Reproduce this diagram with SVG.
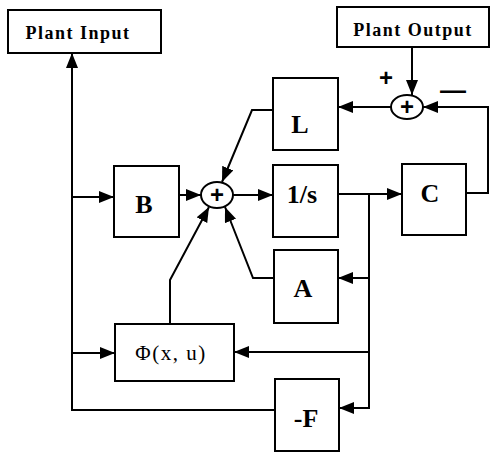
<svg xmlns="http://www.w3.org/2000/svg" width="493" height="453" viewBox="0 0 493 453">
<defs>
<marker id="arr" viewBox="0 0 15 12" refX="15" refY="6" markerWidth="15" markerHeight="12" markerUnits="userSpaceOnUse" orient="auto">
<path d="M0,0 L15,6 L0,12 z" fill="#000"/>
</marker>
</defs>
<style>
.box{fill:#fff;stroke:#000;stroke-width:2}
.sum{fill:#fff;stroke:#000;stroke-width:2}
.lbl{font-family:"Liberation Serif","Times New Roman",serif;font-weight:bold;font-size:26px;text-anchor:middle;fill:#000}
.hdr{font-family:"Liberation Serif","Times New Roman",serif;font-weight:bold;font-size:18px;letter-spacing:1.5px;text-anchor:middle;fill:#000}
.phi{font-family:"Liberation Serif","Times New Roman",serif;font-size:21px;letter-spacing:1.5px;text-anchor:middle;fill:#000}
.pl{font-family:"Liberation Sans",Arial,sans-serif;font-weight:bold;font-size:24px;text-anchor:middle;fill:#000}
.c{fill:none;stroke:#000;stroke-width:2}
</style>
<g id="connectors">
<path class="c" d="M275,410 H72 V53" marker-end="url(#arr)"/>
<path class="c" d="M72,197 H114" marker-end="url(#arr)"/>
<path class="c" d="M72,353 H115" marker-end="url(#arr)"/>
<path class="c" d="M179,195 H201" marker-end="url(#arr)"/>
<path class="c" d="M233,195 H273" marker-end="url(#arr)"/>
<path class="c" d="M338,194 H402" marker-end="url(#arr)"/>
<path class="c" d="M369,194 V408 H339" marker-end="url(#arr)"/>
<path class="c" d="M369,278 H338" marker-end="url(#arr)"/>
<path class="c" d="M369,352 H234" marker-end="url(#arr)"/>
<path class="c" d="M466,193 H488 V107 H423" marker-end="url(#arr)"/>
<path class="c" d="M412,47 V95" marker-end="url(#arr)"/>
<path class="c" d="M391,107 H338" marker-end="url(#arr)"/>
<path class="c" d="M273,110 H252 L222,182" marker-end="url(#arr)"/>
<path class="c" d="M274,278 H253 L225,207" marker-end="url(#arr)"/>
<path class="c" d="M170,324 V280 L209,207" marker-end="url(#arr)"/>
</g>
<g id="plant-input">
<rect class="box" x="8" y="10" width="153" height="43"/>
<text class="hdr" x="78" y="39">Plant Input</text>
</g>
<g id="plant-output">
<rect class="box" x="337" y="7" width="152" height="40"/>
<text class="hdr" x="413" y="36">Plant Output</text>
</g>
<g id="sum2">
<ellipse class="sum" cx="407" cy="107" rx="16" ry="12"/>
<text class="pl" x="407" y="115">+</text>
<text class="pl" x="386" y="86">+</text>
<text class="pl" x="453" y="99" style="font-size:26px">—</text>
</g>
<g id="sum1">
<ellipse class="sum" cx="217" cy="195" rx="16" ry="13"/>
<text class="pl" x="217" y="203">+</text>
</g>
<g id="B">
<rect class="box" x="114" y="166" width="65" height="71"/>
<text class="lbl" x="144" y="213">B</text>
</g>
<g id="L">
<rect class="box" x="273" y="78" width="65" height="72"/>
<text class="lbl" x="300" y="133">L</text>
</g>
<g id="integrator">
<rect class="box" x="273" y="165" width="65" height="72"/>
<text class="lbl" x="302" y="203">1/s</text>
</g>
<g id="C">
<rect class="box" x="402" y="164" width="64" height="71"/>
<text class="lbl" x="430" y="202">C</text>
</g>
<g id="A">
<rect class="box" x="274" y="250" width="64" height="73"/>
<text class="lbl" x="303" y="297">A</text>
</g>
<g id="phi">
<rect class="box" x="115" y="324" width="119" height="57"/>
<text class="phi" x="171" y="360">Φ(x, u)</text>
</g>
<g id="negF">
<rect class="box" x="275" y="379" width="64" height="72"/>
<text class="lbl" x="306" y="427">-F</text>
</g>
</svg>
